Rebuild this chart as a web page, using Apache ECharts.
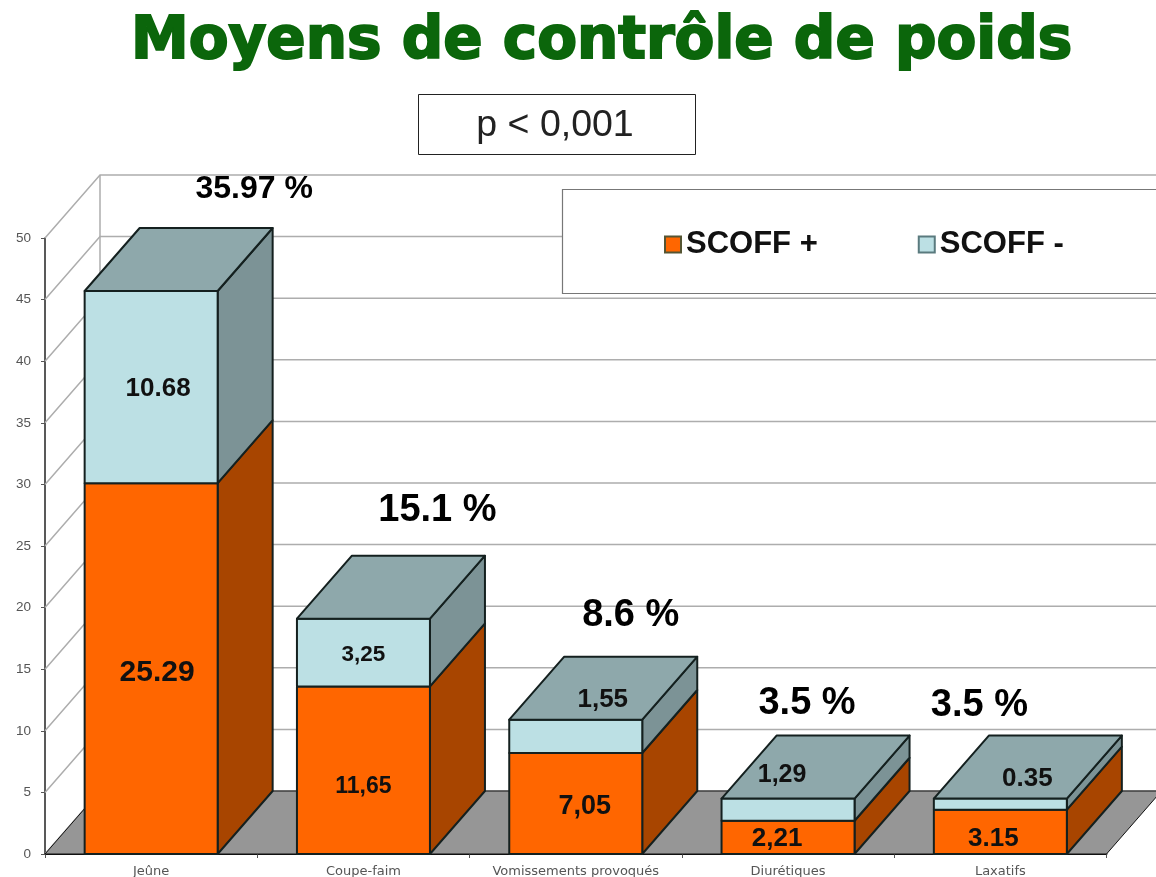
<!DOCTYPE html>
<html><head><meta charset="utf-8">
<style>html,body{margin:0;padding:0;background:#fff}#c{width:1156px;height:877px}</style>
<script src="https://cdn.jsdelivr.net/npm/echarts@6/dist/echarts.min.js"></script>
</head><body><div id="c"></div>
<script>
const categories = ['Jeûne','Coupe-faim','Vomissements provoqués','Diurétiques','Laxatifs'];
const scoffPlus  = [30.1,13.6,8.2,2.7,3.6];
const scoffMinus = [15.6,5.5,2.7,1.8,0.9];
const plusLabels  = ['25.29','11,65','7,05','2,21','3.15'];
const minusLabels = ['10.68','3,25','1,55','1,29','0.35'];
const totalLabels = ['35.97 %','15.1 %','8.6 %','3.5 %','3.5 %'];
const yTicks = [0,5,10,15,20,25,30,35,40,45,50];

// layout-only constants
const DX = 55, DY = -63, BAR = 133, SANS = '"Liberation Sans",Arial,sans-serif';
const plusText  = [[6,4,30],[0,16,23],[9,3,27],[-11,1,26],[-7,7,26]];
const minusText = [[7,2,26],[0,2,22.5],[27,-37,26],[-6,-35,25],[27,-25,26]];
const totalText = [[103,-102,32],[74,-108,38],[55,-104,38],[19,-95,38],[-21,-93,38]];

function poly(points, fill, lw){
  return {type:'polygon', shape:{points}, style:{fill, stroke:'#14201f', lineWidth:lw||2, lineJoin:'round'}};
}
function txt(x,y,text,size,fill){
  return {type:'text', z2:10, style:{x,y,text,fill:fill||'#111',font:'bold '+size+'px '+SANS,align:'center',verticalAlign:'middle'}};
}
function box(api, i, v0, v1, cols, withTop){
  const c0 = api.coord([i,v0]), c1 = api.coord([i,v1]);
  const l = c0[0]-BAR/2, r = c0[0]+BAR/2, b = c0[1], t = c1[1];
  const els = [
    poly([[r,b],[r+DX,b+DY],[r+DX,t+DY],[r,t]], cols.side),
    poly([[l,b],[r,b],[r,t],[l,t]], cols.front)
  ];
  if(withTop) els.push(poly([[l,t],[r,t],[r+DX,t+DY],[l+DX,t+DY]], cols.top));
  return {els, cx:c0[0], cy:(b+t)/2, t};
}
const ORANGE={front:'#ff6600',side:'#a84500'}, BLUE={front:'#bce0e4',side:'#7c9396',top:'#8ea8ab'};

const option = {
  animation:false,
  backgroundColor:'#fff',
  title:{text:'Moyens de contrôle de poids',left:126,top:9,
    textStyle:{fontFamily:'"DejaVu Sans"',fontWeight:'bold',fontSize:58,color:'#0b660b',textBorderColor:'#0b660b',textBorderWidth:2}},
  grid:{left:45,right:49.5,top:238,bottom:23,outerBoundsMode:'none'},
  legend:{left:659,top:224,itemWidth:16,itemHeight:16,itemGap:100,icon:'rect',z:8,
    data:['SCOFF +','SCOFF -'],
    textStyle:{fontFamily:SANS,fontWeight:'bold',fontSize:31,color:'#111'}},
  xAxis:{type:'category',data:categories,
    axisLine:{lineStyle:{color:'#111',width:2}},
    axisTick:{show:true,interval:0,alignWithLabel:false,length:4,lineStyle:{color:'#555'}},
    axisLabel:{interval:0,hideOverlap:false,fontFamily:'"DejaVu Sans"',fontSize:13,color:'#555',margin:11}},
  yAxis:{type:'value',min:0,max:50,interval:5,
    axisLine:{show:true,lineStyle:{color:'#222',width:1.5}},
    axisTick:{show:true,length:4,lineStyle:{color:'#555'}},
    axisLabel:{fontFamily:SANS,fontSize:13.5,color:'#555',margin:14},
    splitLine:{show:false}},
  graphic:[
    {type:'rect',z:5,shape:{x:562.5,y:189.5,width:640,height:104},style:{fill:'#fff',stroke:'#777',lineWidth:1.2}},
    {type:'rect',z:5,shape:{x:418.5,y:94.5,width:277,height:60},style:{fill:'#fff',stroke:'#222',lineWidth:1}},
    {type:'text',z:6,style:{x:555,y:126,text:'p < 0,001',align:'center',verticalAlign:'middle',font:'37.5px '+SANS,fill:'#222'}}
  ],
  series:[
    {type:'custom',name:'wall',z:1,silent:true,data:yTicks.map(v=>[v]),
     encode:{y:0},
     renderItem(params,api){
       const cs=params.coordSys, y=api.coord([0,api.value(0)])[1], x0=cs.x, x1=cs.x+cs.width;
       const line={type:'polyline',shape:{points:[[x0,y],[x0+DX,y+DY],[x1+DX,y+DY]]},
         style:{fill:'none',stroke:'#adadad',lineWidth:1.5}};
       const children=[line];
       if(api.value(0)===0){
         children.unshift({type:'polygon',z2:3,shape:{points:[[x0,y],[x0+DX,y+DY],[x1+DX,y+DY],[x1,y]]},
           style:{fill:'#969696',stroke:'#111',lineWidth:1}});
         children.push({type:'line',shape:{x1:x0+DX,y1:y+DY,x2:x0+DX,y2:cs.y+DY},style:{stroke:'#adadad',lineWidth:1.5}});
       }
       return {type:'group',children};
     }},
    {type:'custom',name:'SCOFF +',z:2,silent:true,itemStyle:{color:'#ff6600',borderColor:'#553',borderWidth:1},
     data:categories.map((c,i)=>[i,scoffPlus[i]]),encode:{x:0,y:1},
     renderItem(params,api){
       const i=api.value(0), b=box(api,i,0,api.value(1),ORANGE,false), o=plusText[i];
       b.els.push(txt(b.cx+o[0],b.cy+o[1],plusLabels[i],o[2]));
       return {type:'group',children:b.els};
     }},
    {type:'custom',name:'SCOFF -',z:3,silent:true,itemStyle:{color:'#bce0e4',borderColor:'#5a7a7e',borderWidth:1},
     data:categories.map((c,i)=>[i,scoffPlus[i],scoffPlus[i]+scoffMinus[i]]),encode:{x:0,y:2},
     renderItem(params,api){
       const i=api.value(0), b=box(api,i,api.value(1),api.value(2),BLUE,true), o=minusText[i], p=totalText[i];
       b.els.push(txt(b.cx+o[0],b.cy+o[1],minusLabels[i],o[2]));
       b.els.push(txt(b.cx+p[0],b.t+p[1],totalLabels[i],p[2],'#000'));
       return {type:'group',children:b.els};
     }}
  ]
};
const chart = echarts.init(document.getElementById('c'),null,{renderer:'canvas'});
chart.setOption(option);
</script></body></html>
